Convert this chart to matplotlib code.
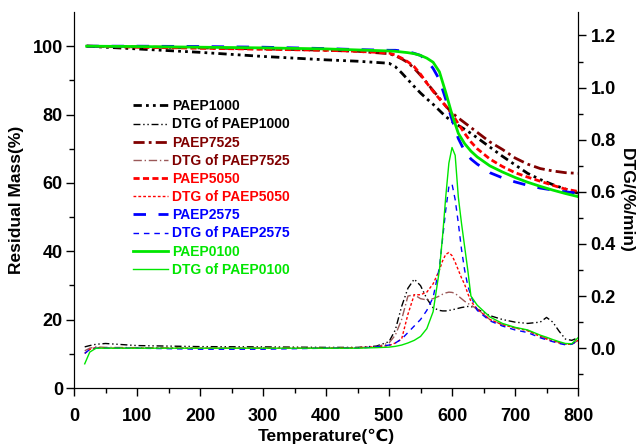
import matplotlib
matplotlib.use("Agg")
import matplotlib.pyplot as plt

plt.rcParams.update({
    "font.family": ["Liberation Sans", "DejaVu Sans"],
    "font.weight": "bold",
    "axes.labelweight": "bold",
})

# ---- data ----
T_TG = [20, 100, 200, 300, 400, 450, 500, 510, 520, 530, 540, 550, 560, 570, 580, 590,
        600, 610, 620, 630, 640, 660, 680, 700, 720, 740, 760, 780, 800]
tg_1000 = [100, 99.2, 98.2, 97.0, 96.0, 95.6, 95.0, 94.0, 92.2, 90.2, 88.2, 86.3, 84.6, 83.0,
           81.2, 79.4, 78.0, 76.8, 75.7, 74.5, 73.2, 70.5, 67.8, 65.3, 62.8, 61.0, 59.5, 58.2, 57.0]
tg_7525 = [100, 99.8, 99.5, 99.2, 98.8, 98.5, 97.8, 97.2, 96.3, 95.2, 93.5, 91.5, 89.3, 87.0,
           84.8, 82.5, 80.5, 79.0, 77.6, 76.2, 74.8, 72.0, 69.8, 67.3, 65.5, 64.2, 63.5, 63.0, 62.8]
tg_5050 = [100, 99.7, 99.4, 99.1, 98.8, 98.5, 98.0, 97.4, 96.5, 95.4, 94.0, 91.8, 89.2, 86.8,
           84.6, 82.5, 80.2, 77.3, 74.5, 72.0, 70.0, 67.0, 64.8, 63.0, 61.7, 60.5, 59.3, 58.2, 57.5]
tg_2575 = [100, 100, 99.9, 99.7, 99.3, 99.0, 98.8, 98.8, 98.6, 98.4, 97.9, 97.3, 95.8, 93.5,
           90.2, 84.5, 78.5, 73.0, 69.3, 67.0, 65.5, 63.0, 61.5, 60.3, 59.3, 58.5, 57.9, 57.4, 57.0]
tg_0100 = [100, 99.9, 99.7, 99.5, 99.2, 98.9, 98.6, 98.5, 98.3, 98.1, 97.8, 97.3, 96.5, 95.3,
           92.5, 86.5, 80.0, 74.5, 71.5, 69.3, 67.6, 65.0, 63.2, 61.6, 60.2, 59.0, 57.9, 56.9, 56.0]

T_DTG = [17, 25, 35, 50, 100, 200, 300, 400, 450, 480, 500, 510, 520, 530, 540, 550, 560, 570,
         580, 585, 590, 595, 600, 605, 610, 615, 620, 625, 630, 640, 660, 680, 700, 720, 740,
         750, 760, 770, 780, 790, 800]
dtg_1000 = [0.005, 0.01, 0.015, 0.018, 0.01, 0.006, 0.005, 0.003, 0.003, 0.008, 0.025, 0.07,
            0.16, 0.23, 0.265, 0.24, 0.19, 0.155, 0.145, 0.143, 0.143, 0.145, 0.147, 0.15,
            0.153, 0.156, 0.158, 0.16, 0.16, 0.15, 0.125, 0.11, 0.10, 0.095, 0.10, 0.118, 0.10,
            0.065, 0.035, 0.03, 0.04]
dtg_7525 = [-0.01, 0.0, 0.005, 0.003, 0.002, 0.0, 0.0, 0.0, 0.002, 0.005, 0.02, 0.05, 0.11,
            0.20, 0.205, 0.19, 0.185, 0.19, 0.20, 0.207, 0.212, 0.215, 0.214, 0.21, 0.20, 0.19,
            0.18, 0.172, 0.165, 0.15, 0.11, 0.09, 0.078, 0.068, 0.047, 0.037, 0.03, 0.022,
            0.016, 0.015, 0.03]
dtg_5050 = [-0.02, -0.005, 0.003, 0.0, 0.0, 0.0, 0.0, 0.0, 0.002, 0.005, 0.01, 0.02, 0.035,
            0.13, 0.205, 0.205, 0.215, 0.247, 0.30, 0.335, 0.36, 0.367, 0.355, 0.33, 0.30,
            0.27, 0.245, 0.21, 0.18, 0.15, 0.11, 0.09, 0.078, 0.067, 0.045, 0.035, 0.028,
            0.02, 0.015, 0.015, 0.03]
dtg_2575 = [-0.02, -0.005, 0.0, 0.0, 0.0, -0.004, -0.004, 0.0, 0.0, 0.005, 0.012, 0.02, 0.035,
            0.06, 0.085, 0.11, 0.145, 0.195, 0.31, 0.42, 0.53, 0.62, 0.63, 0.57, 0.48, 0.38,
            0.30, 0.24, 0.20, 0.145, 0.105, 0.085, 0.07, 0.06, 0.04, 0.032, 0.025, 0.018,
            0.013, 0.015, 0.03]
dtg_0100 = [-0.06, -0.015, 0.0, 0.0, 0.0, 0.0, 0.0, 0.0, 0.0, 0.002, 0.004, 0.007, 0.012,
            0.02, 0.03, 0.045, 0.075, 0.14, 0.30, 0.43, 0.58, 0.71, 0.77, 0.74, 0.58, 0.48,
            0.39, 0.30, 0.20, 0.165, 0.12, 0.095, 0.08, 0.07, 0.05, 0.042, 0.033, 0.025,
            0.018, 0.017, 0.04]

C1000, C7525, C5050, C2575, C0100 = "#000000", "#800000", "#FF0000", "#0000FF", "#00E600"

fig = plt.figure(figsize=(6.38, 4.44), dpi=100)
ax = fig.add_axes([0.116, 0.126, 0.79, 0.847])
ax2 = ax.twinx()

lw_tg, lw_dtg = 2.0, 1.0
h = []
h += ax.plot(T_TG, tg_1000, color=C1000, lw=lw_tg, ls=(0, (3, 1.5, 1, 1.5, 1, 1.5)), label="PAEP1000")
h += ax2.plot(T_DTG, dtg_1000, color=C1000, lw=lw_dtg, ls=(0, (5, 2, 1, 2, 1, 2)), label="DTG of PAEP1000")
h += ax.plot(T_TG, tg_7525, color=C7525, lw=lw_tg, ls=(0, (4, 1.5, 1, 1.5)), label="PAEP7525")
h += ax2.plot(T_DTG, dtg_7525, color="#9a5858", lw=lw_dtg, ls=(0, (6, 2, 1, 2)), label="DTG of PAEP7525")
h += ax.plot(T_TG, tg_5050, color=C5050, lw=lw_tg, ls=(0, (2.2, 1.2)), label="PAEP5050")
h += ax2.plot(T_DTG, dtg_5050, color=C5050, lw=lw_dtg, ls=(0, (2, 1.5)), label="DTG of PAEP5050")
h += ax.plot(T_TG, tg_2575, color=C2575, lw=lw_tg, ls=(0, (4.5, 4.5)), label="PAEP2575")
h += ax2.plot(T_DTG, dtg_2575, color=C2575, lw=lw_dtg, ls=(0, (4, 3.5)), label="DTG of PAEP2575")
h += ax.plot(T_TG, tg_0100, color=C0100, lw=lw_tg, ls="-", label="PAEP0100")
h += ax2.plot(T_DTG, dtg_0100, color=C0100, lw=lw_dtg, ls="-", label="DTG of PAEP0100")

ax.set_xlim(0, 800)
ax.set_ylim(0, 110)
ax2.set_ylim(-0.153, 1.29)
ax.set_xticks(range(0, 801, 100))
ax.set_xticks(range(0, 801, 50), minor=True)
ax.set_yticks(range(0, 101, 20))
ax.set_yticks(range(0, 101, 10), minor=True)
ax2.set_yticks([0.0, 0.2, 0.4, 0.6, 0.8, 1.0, 1.2])
ax2.set_yticks([-0.1, 0.1, 0.3, 0.5, 0.7, 0.9, 1.1], minor=True)
ax2.set_yticklabels(["0.0", "0.2", "0.4", "0.6", "0.8", "1.0", "1.2"])

for a in (ax, ax2):
    a.spines["top"].set_visible(False)
    a.tick_params(which="major", direction="out", length=6, width=1, labelsize=13)
    a.tick_params(which="minor", direction="out", length=3.5, width=1)
ax.tick_params(axis="x", pad=8)
ax.tick_params(axis="y", pad=2)
ax2.tick_params(axis="y", pad=3)

ax.set_xlabel("Temperature(\u2103)", fontsize=12.5, labelpad=3)
ax.set_ylabel("Residual Mass(%)", fontsize=12.5, labelpad=6)
ax2.set_ylabel("DTG/(%/min)", fontsize=12.5, rotation=-90, labelpad=13)

colors = [C1000, C1000, C7525, C7525, C5050, C5050, C2575, C2575, C0100, C0100]
leg = ax2.legend(h, [l.get_label() for l in h], loc="upper left", bbox_to_anchor=(0.118, 0.768),
                 frameon=False, fontsize=10, handlelength=2.5, handletextpad=0.3,
                 labelspacing=0.3, borderpad=0, borderaxespad=0, labelcolor=colors)

fig.savefig("out.png", dpi=100)
